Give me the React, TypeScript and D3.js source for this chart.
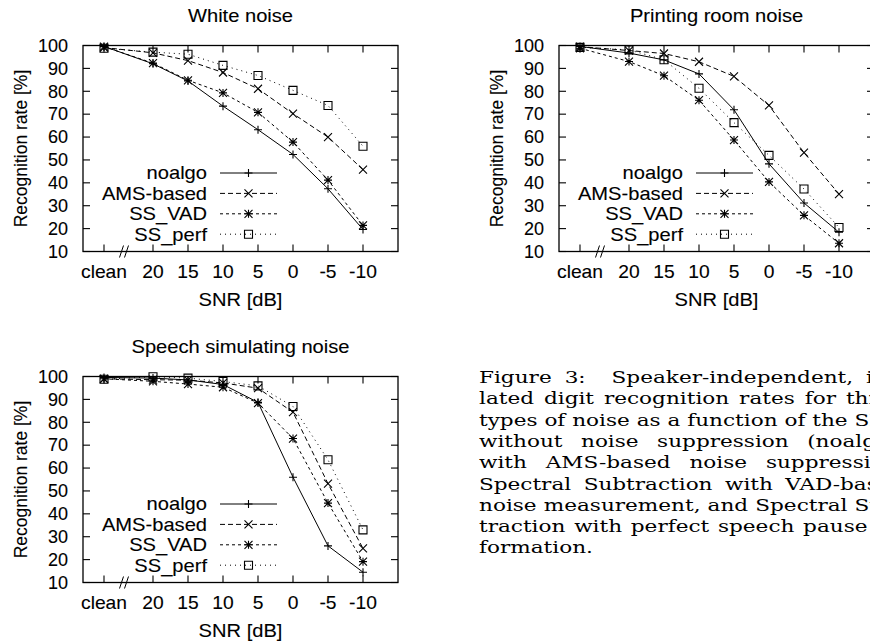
import React, { useEffect, useRef } from 'react';
import * as d3 from 'd3';

// ---------- data ----------
const PANEL_TITLES = ['White noise', 'Printing room noise', 'Speech simulating noise'];
const X_LABELS = ['clean', '20', '15', '10', '5', '0', '-5', '-10'];
const X_POS = [27, 20, 15, 10, 5, 0, -5, -10]; // axis position (dB), "clean" drawn at 27
const Y_TICKS = [10, 20, 30, 40, 50, 60, 70, 80, 90, 100];
const SERIES = ['noalgo', 'AMS-based', 'SS_VAD', 'SS_perf'];

const whiteNoalgo = [99.6, 92.0, 84.5, 73.5, 63.2, 52.4, 37.4, 19.6];
const whiteAms = [99.1, 96.8, 93.4, 88.2, 81.1, 70.2, 60.0, 45.8];
const whiteVad = [99.5, 92.3, 84.8, 79.3, 70.8, 57.8, 41.2, 21.4];
const whitePerf = [98.8, 97.1, 96.2, 91.3, 86.9, 80.4, 73.8, 56.0];

const printNoalgo = [99.6, 96.7, 93.7, 87.6, 71.9, 48.3, 31.2, 18.4];
const printAms = [99.5, 97.8, 96.5, 92.9, 86.5, 73.8, 53.2, 35.1];
const printVad = [98.8, 93.0, 86.8, 76.1, 58.7, 40.4, 25.8, 13.6];
const printPerf = [99.2, 98.1, 93.8, 81.3, 66.3, 52.0, 37.3, 20.5];

const speechNoalgo = [99.6, 99.3, 98.5, 96.5, 88.7, 56.0, 26.0, 14.5];
const speechAms = [99.0, 98.6, 98.4, 97.2, 94.9, 84.4, 53.2, 24.9];
const speechVad = [99.0, 97.9, 96.7, 95.3, 88.4, 72.9, 44.7, 19.1];
const speechPerf = [98.8, 99.9, 99.3, 97.8, 95.9, 86.9, 63.6, 33.0];

const CAPTION = [
  'Figure 3:  Speaker-independent, iso-',
  'lated digit recognition rates for three',
  'types of noise as a function of the SNR',
  'without noise suppression (noalgo),',
  'with AMS-based noise suppression,',
  'Spectral Subtraction with VAD-based',
  'noise measurement, and Spectral Sub-',
  'traction with perfect speech pause in-',
  'formation.',
];

const PANELS = [
  { title: PANEL_TITLES[0], data: [whiteNoalgo, whiteAms, whiteVad, whitePerf] },
  { title: PANEL_TITLES[1], data: [printNoalgo, printAms, printVad, printPerf] },
  { title: PANEL_TITLES[2], data: [speechNoalgo, speechAms, speechVad, speechPerf] },
];

// ---------- styling ----------
const W = 870;
const H = 644;
const OFFSETS: [number, number][] = [[0, 0], [476, 0], [0, 331]];
const PLOT = { left: 83, right: 398, top: 45.5, bottom: 251.5 };
const SANS = "'Liberation Sans', Arial, Helvetica, sans-serif";
const SERIF = "'DejaVu Serif', 'Liberation Serif', serif";
const FS = 17.5;
const TEXT_STROKE = 0.1;
const DASH = [null, '5,3', '3,3', '1,4'];
const MARKERS = ['plus', 'cross', 'star', 'square'];

function drawMarker(g: any, kind: string, x: number, y: number) {
  const r = 4;
  const p = d3.path();
  if (kind === 'plus' || kind === 'star') {
    p.moveTo(x - r, y); p.lineTo(x + r, y);
    p.moveTo(x, y - r); p.lineTo(x, y + r);
  }
  if (kind === 'cross' || kind === 'star') {
    p.moveTo(x - r, y - r); p.lineTo(x + r, y + r);
    p.moveTo(x - r, y + r); p.lineTo(x + r, y - r);
  }
  if (kind === 'square') {
    p.rect(x - r, y - r, 2 * r, 2 * r);
  }
  g.append('path').attr('d', p.toString()).attr('fill', 'none')
    .attr('stroke', '#000').attr('stroke-width', 1.1);
}

// horizontal text with a horizontal stretch factor
function hText(g: any, x: number, y: number, t: string, anchor: string, sx: number) {
  g.append('text')
    .attr('transform', `translate(${x},${y}) scale(${sx},1)`)
    .attr('text-anchor', anchor)
    .attr('stroke', '#000').attr('stroke-width', TEXT_STROKE)
    .text(t);
}

export default function App() {
  const ref = useRef<SVGSVGElement | null>(null);

  useEffect(() => {
    const svg = d3.select(ref.current);
    svg.selectAll('*').remove();
    svg.append('rect').attr('width', W).attr('height', H).attr('fill', '#fff');

    const x = d3.scaleLinear().domain([30, -15]).range([PLOT.left, PLOT.right]);
    const y = d3.scaleLinear().domain([10, 100]).range([PLOT.bottom, PLOT.top]);

    PANELS.forEach((panel, pi) => {
      const [ox, oy] = OFFSETS[pi];
      const g = svg.append('g').attr('transform', `translate(${ox},${oy})`)
        .attr('font-family', SANS).attr('font-size', FS);

      // title
      hText(g, (PLOT.left + PLOT.right) / 2, 22, panel.title, 'middle', 1.15);

      // frame
      g.append('rect').attr('x', PLOT.left).attr('y', PLOT.top)
        .attr('width', PLOT.right - PLOT.left).attr('height', PLOT.bottom - PLOT.top)
        .attr('fill', 'none').attr('stroke', '#000').attr('stroke-width', 1.3);

      // y ticks
      Y_TICKS.forEach((v) => {
        const yy = y(v);
        g.append('line').attr('x1', PLOT.left).attr('x2', PLOT.left + 7)
          .attr('y1', yy).attr('y2', yy).attr('stroke', '#000').attr('stroke-width', 1.1);
        g.append('line').attr('x1', PLOT.right - 7).attr('x2', PLOT.right)
          .attr('y1', yy).attr('y2', yy).attr('stroke', '#000').attr('stroke-width', 1.1);
        hText(g, 68, yy + 6.3, String(v), 'end', 1.03);
      });

      // x ticks
      X_POS.forEach((v, i) => {
        const xx = x(v);
        g.append('line').attr('x1', xx).attr('x2', xx)
          .attr('y1', PLOT.bottom).attr('y2', PLOT.bottom - 7).attr('stroke', '#000').attr('stroke-width', 1.1);
        g.append('line').attr('x1', xx).attr('x2', xx)
          .attr('y1', PLOT.top).attr('y2', PLOT.top + 7).attr('stroke', '#000').attr('stroke-width', 1.1);
        hText(g, xx, 278, X_LABELS[i], 'middle', 1.1);
      });

      // axis break mark
      const bx = (x(27) + x(20)) / 2 - 7;
      [0, 5].forEach((d) => {
        g.append('line').attr('x1', bx + d - 2).attr('y1', PLOT.bottom + 6)
          .attr('x2', bx + d + 2).attr('y2', PLOT.bottom - 6)
          .attr('stroke', '#000').attr('stroke-width', 1);
      });

      // axis labels
      hText(g, (PLOT.left + PLOT.right) / 2, 306, 'SNR [dB]', 'middle', 1.15);
      g.append('text')
        .attr('transform', `translate(27,${(PLOT.top + PLOT.bottom) / 2}) rotate(-90)`)
        .attr('text-anchor', 'middle')
        .attr('stroke', '#000').attr('stroke-width', TEXT_STROKE)
        .text('Recognition rate [%]');

      // series
      const line = d3.line<number>().x((_, i) => x(X_POS[i])).y((d) => y(d));
      panel.data.forEach((vals, si) => {
        const path = g.append('path').attr('d', line(vals) as string)
          .attr('fill', 'none').attr('stroke', '#000').attr('stroke-width', 1);
        if (DASH[si]) path.attr('stroke-dasharray', DASH[si] as string);
        vals.forEach((v, i) => drawMarker(g, MARKERS[si], x(X_POS[i]), y(v)));
      });

      // legend
      SERIES.forEach((name, si) => {
        const ly = 173 + si * 20.4;
        hText(g, 207, ly + 6.3, name, 'end', 1.15);
        const l = g.append('line').attr('x1', 220).attr('x2', 277).attr('y1', ly).attr('y2', ly)
          .attr('stroke', '#000').attr('stroke-width', 1);
        if (DASH[si]) l.attr('stroke-dasharray', DASH[si] as string);
        drawMarker(g, MARKERS[si], 248.5, ly);
      });
    });

    // caption (justified)
    const cap = svg.append('g').attr('font-family', SERIF).attr('font-size', 17.5);
    const probe = cap.append('text').text('formation.');
    const fw = (probe.node() as SVGTextElement).getComputedTextLength();
    probe.remove();
    const sx = fw > 0 ? 114 / fw : 1.2;
    const nodes: any[] = [];
    let maxW = 0;
    CAPTION.forEach((t, i) => {
      const tg = cap.append('g').attr('transform', `translate(479,${383 + i * 21.3}) scale(${sx},1)`);
      const tx = tg.append('text').attr('x', 0).attr('y', 0)
        .style('white-space', 'pre').text(t);
      const w = (tx.node() as SVGTextElement).getComputedTextLength();
      if (i < CAPTION.length - 1) maxW = Math.max(maxW, w);
      nodes.push({ tx, w, t });
    });
    nodes.forEach((n, i) => {
      if (i === CAPTION.length - 1) return;
      const spaces = (n.t.match(/ /g) || []).length;
      if (spaces > 0) n.tx.attr('word-spacing', (maxW - n.w) / spaces);
    });
  }, []);

  return (
    <svg ref={ref} width={W} height={H}
      style={{ position: 'absolute', left: 0, top: 0, display: 'block' }} />
  );
}
